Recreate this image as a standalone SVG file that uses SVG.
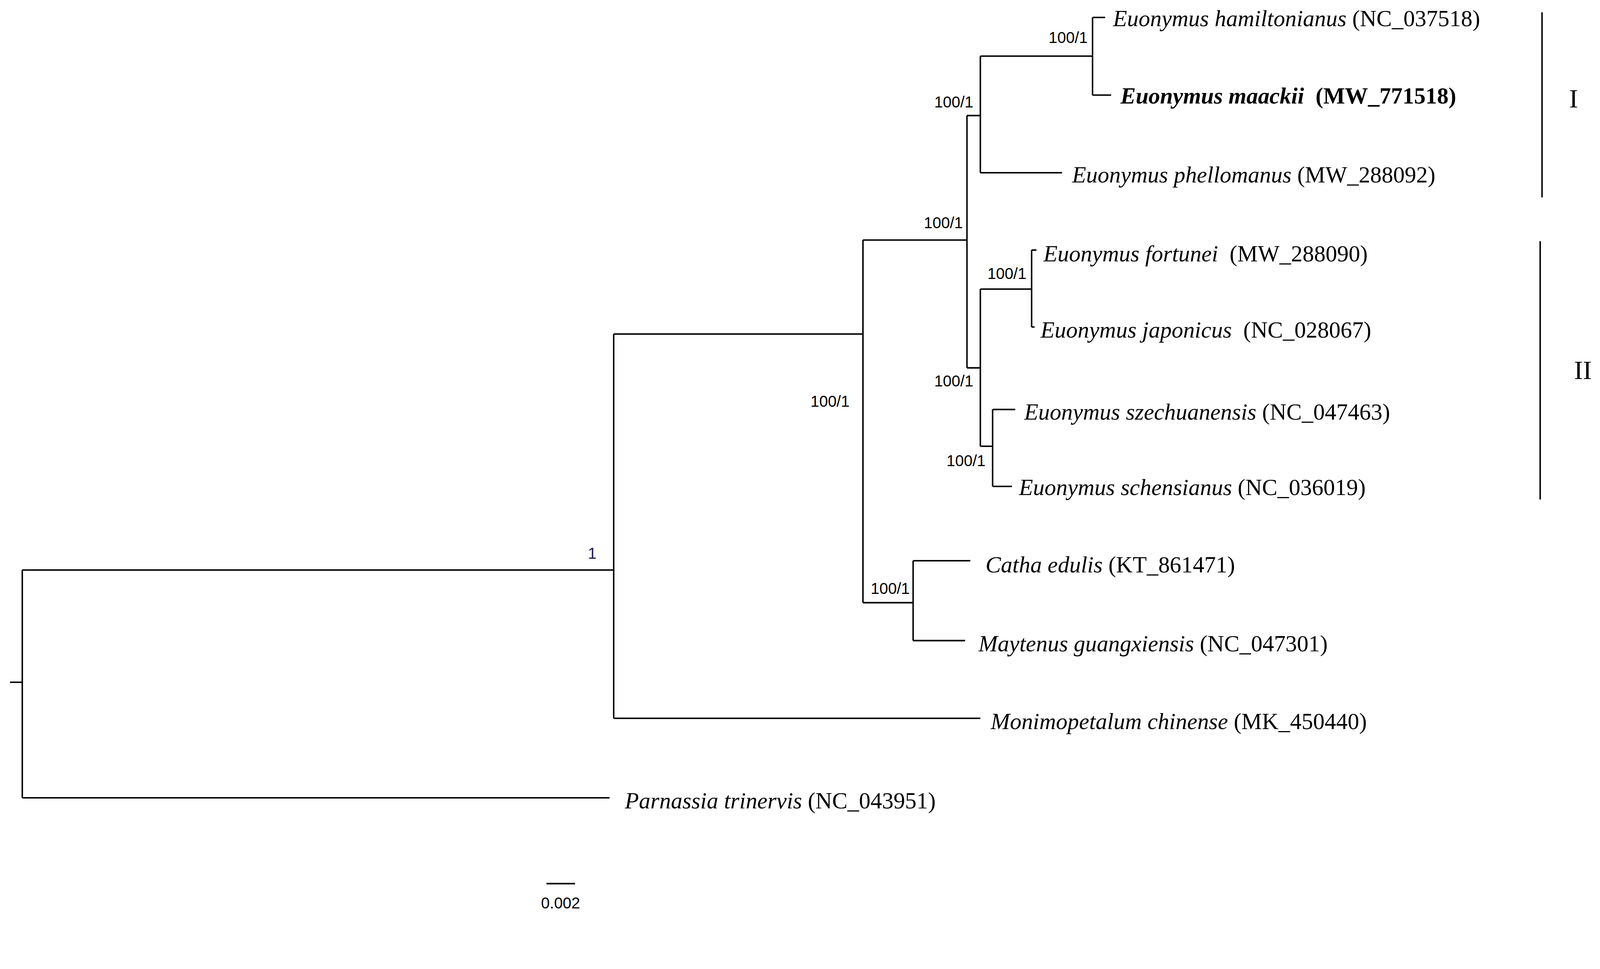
<svg xmlns="http://www.w3.org/2000/svg" width="4310" height="2480" viewBox="0 0 4310 2480">
<style>
.e{stroke:#000;stroke-width:4;fill:none}
.t{font-family:"Liberation Serif",serif;font-size:62px;fill:#000}
.i{font-style:italic}
.s{font-family:"Liberation Sans",sans-serif;font-size:42px;fill:#000;text-anchor:end}
.r{font-family:"Liberation Serif",serif;font-size:72px;fill:#000;text-anchor:middle}
</style>
<rect width="4310" height="2480" fill="#fff"/>
<g transform="scale(0.951)">
<g id="connectors">
<path class="e" d="M27 1836H60M60 1534V2147M60 1534H1652M60 2147H1641M1652 899V1933M1652 1933H2639M1652 899H2323M2323 646V1622M2323 1622H2458M2458 1509V1724M2458 1509H2612M2458 1724H2598M2323 646H2603M2603 311V990M2603 311H2639M2639 151V465M2639 151H2941M2941 47V256M2941 47H2975M2941 256H2991M2639 465H2859M2603 990H2639M2639 778V1201M2639 778H2777M2777 673V880M2777 673H2790M2777 880H2785M2639 1201H2672M2672 1102V1309M2672 1102H2733M2672 1309H2724"/>
</g>
<g id="leaf-hamiltonianus"><text class="t" x="2996" y="70"><tspan class="i">Euonymus hamiltonianus</tspan> (NC_037518)</text></g>
<g id="leaf-maackii"><text class="t" x="3016" y="279" font-weight="bold"><tspan class="i">Euonymus maackii</tspan>&#160; (MW_771518)</text></g>
<g id="leaf-phellomanus"><text class="t" x="2886" y="491"><tspan class="i">Euonymus phellomanus</tspan> (MW_288092)</text></g>
<g id="leaf-fortunei"><text class="t" x="2809" y="703"><tspan class="i">Euonymus fortunei</tspan>&#160; (MW_288090)</text></g>
<g id="leaf-japonicus"><text class="t" x="2801" y="909"><tspan class="i">Euonymus japonicus</tspan>&#160; (NC_028067)</text></g>
<g id="leaf-szechuanensis"><text class="t" x="2757" y="1129"><tspan class="i">Euonymus szechuanensis</tspan> (NC_047463)</text></g>
<g id="leaf-schensianus"><text class="t" x="2743" y="1332"><tspan class="i">Euonymus schensianus</tspan> (NC_036019)</text></g>
<g id="leaf-catha"><text class="t" x="2653" y="1541"><tspan class="i">Catha edulis</tspan> (KT_861471)</text></g>
<g id="leaf-maytenus"><text class="t" x="2634" y="1753"><tspan class="i">Maytenus guangxiensis</tspan> (NC_047301)</text></g>
<g id="leaf-monimopetalum"><text class="t" x="2667" y="1962"><tspan class="i">Monimopetalum chinense</tspan> (MK_450440)</text></g>
<g id="leaf-parnassia"><text class="t" x="1682" y="2176"><tspan class="i">Parnassia trinervis</tspan> (NC_043951)</text></g>
<g id="supports">
<text class="s" x="2928" y="116">100/1</text>
<text class="s" x="2620" y="289">100/1</text>
<text class="s" x="2592" y="614">100/1</text>
<text class="s" x="2763" y="751">100/1</text>
<text class="s" x="2620" y="1040">100/1</text>
<text class="s" x="2653" y="1254">100/1</text>
<text class="s" x="2287" y="1095">100/1</text>
<text class="s" x="2449" y="1598">100/1</text>
<text class="s" x="1606" y="1504" style="fill:#1a1a5a">1</text>
</g>
<g id="clade-I"><path class="e" d="M4151 33V531" stroke-width="5"/><text class="r" x="4236" y="289">I</text></g>
<g id="clade-II"><path class="e" d="M4146 649V1344" stroke-width="5"/><text class="r" x="4261" y="1020">II</text></g>
<g id="scale"><path class="e" d="M1471 2378H1548"/><text class="s" x="1509" y="2445" style="text-anchor:middle">0.002</text></g>
</g>
</svg>
